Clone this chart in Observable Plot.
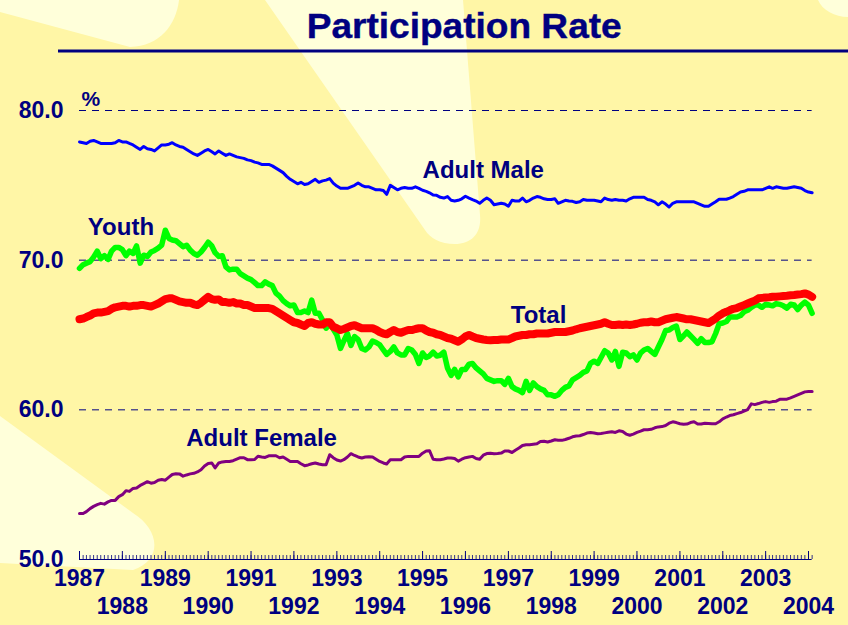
<!DOCTYPE html>
<html>
<head>
<meta charset="utf-8">
<script src="https://cdn.jsdelivr.net/npm/d3@7"></script>
<script src="https://cdn.jsdelivr.net/npm/@observablehq/plot@0.6"></script>
<style>
  html, body { margin: 0; padding: 0; background: #FFF6A6; }
  #wrap { position: relative; width: 848px; height: 625px; overflow: hidden; background: #FFF6A6; font-family: "Liberation Sans", Arial, sans-serif; }
  #bg { position: absolute; left: 0; top: 0; }
  #chart { position: absolute; left: 0; top: 0; }
</style>
</head>
<body>
<div id="wrap">
  <svg id="bg" width="848" height="625" viewBox="0 0 848 625">
    <path d="M0,0 L179,0 C176,25 160,46 130,47 L0,12 Z" fill="#FFFFDA"/>
    <path d="M265,0 L463,0 L480,215 C482,235 470,244 455,244 C440,244 430,238 425,230 Z" fill="#FFFFDA"/>
    <path d="M0,416 L133,513 C160,530 163,560 133,570 L0,563 Z" fill="#FFFFDA"/>
    <path d="M818,0 C822,10 835,17 848,17 L848,0 Z" fill="#FFFFDA"/>
    <text x="306.7" y="38" font-family="Liberation Sans, Arial, sans-serif" font-weight="bold" font-size="35" fill="#000080" stroke="#000080" stroke-width="0.4" textLength="315" lengthAdjust="spacingAndGlyphs">Participation Rate</text>
    <rect x="58" y="49.5" width="790" height="3" fill="#000080"/>
  </svg>
  <div id="chart"></div>
</div>
<script>
// Monthly participation rates, Jan 1987 – Feb 2004 (%)
const adultMale = [
  77.9, 77.85, 77.8, 77.95, 78.0, 77.9, 77.8, 77.8, 77.8, 77.8, 77.85, 78.0,
  77.9, 77.9, 77.8, 77.7, 77.55, 77.4, 77.6, 77.45, 77.4, 77.3, 77.5, 77.7,
  77.7, 77.75, 77.85, 77.7, 77.6, 77.55, 77.4, 77.25, 77.1, 77.0, 77.15, 77.3,
  77.4, 77.25, 77.1, 77.3, 77.15, 77.0, 77.1, 77.0, 76.9, 76.85, 76.8, 76.7,
  76.65, 76.55, 76.5, 76.4, 76.4, 76.4, 76.3, 76.15, 76.0, 75.85, 75.6, 75.4,
  75.25, 75.1, 75.2, 75.05, 75.1, 75.25, 75.4, 75.2, 75.3, 75.35, 75.45, 75.15,
  74.95, 74.8, 74.8, 74.8, 74.9, 75.0, 75.15, 75.0, 74.9, 74.9, 74.8, 74.7,
  74.7, 74.65, 74.4, 75.0, 74.85, 74.7, 74.8, 74.85, 74.8, 74.8, 74.9, 74.8,
  74.67, 74.6, 74.5, 74.35, 74.33, 74.2, 74.15, 74.25, 74.0, 73.95, 74.0, 74.1,
  74.27, 74.15, 74.05, 73.95, 73.8, 74.0, 74.15, 74.0, 73.7, 73.75, 73.8, 73.75,
  73.6, 74.0, 73.95, 73.95, 74.15, 73.9, 74.0, 74.15, 74.25, 74.2, 74.1, 74.05,
  74.05, 74.1, 73.8, 73.9, 74.0, 73.95, 73.93, 73.85, 73.9, 74.05, 74.0, 74.0,
  74.0, 73.95, 73.9, 74.15, 74.05, 74.0, 74.05, 74.0, 74.0, 73.95, 74.1, 74.2,
  74.2, 74.2, 74.2, 74.05, 74.0, 73.9, 73.7, 73.9, 73.75, 73.55, 73.8, 73.9,
  73.9, 73.9, 73.9, 73.9, 73.9, 73.8, 73.7, 73.6, 73.6, 73.75, 73.9, 74.07,
  74.07, 74.07, 74.15, 74.25, 74.4, 74.55, 74.6, 74.7, 74.7, 74.7, 74.7, 74.7,
  74.8, 74.9, 74.8, 74.9, 74.85, 74.8, 74.8, 74.85, 74.9, 74.85, 74.8, 74.65,
  74.55, 74.5
];
const youth = [
  69.45, 69.7, 69.8, 69.9, 70.2, 70.6, 70.1, 70.3, 70.05, 70.6, 70.85, 70.85,
  70.7, 70.3, 70.6, 70.45, 70.95, 69.8, 70.33, 70.25, 70.55, 70.65, 70.8, 71.0,
  72.0, 71.45, 71.35, 71.3, 71.1, 70.9, 71.0, 70.67, 70.45, 70.33, 70.55, 70.85,
  71.2, 70.95, 70.5, 70.25, 70.3, 69.55, 69.35, 69.4, 69.4, 69.1, 68.95, 68.8,
  68.7, 68.5, 68.3, 68.3, 68.55, 68.4, 68.3, 67.8, 67.6, 67.3, 67.1, 66.95,
  67.0, 66.5, 66.5, 66.6, 66.5, 67.33, 66.45, 66.45, 66.0, 65.45, 65.75, 65.4,
  65.0, 64.1, 64.6, 65.1, 64.3, 64.9, 64.7, 64.1, 64.0, 64.2, 64.6, 64.5,
  64.35, 64.0, 63.7, 63.9, 64.2, 63.8, 63.67, 63.67, 64.1, 64.0, 63.7, 63.1,
  63.8, 63.5, 63.6, 63.85, 63.6, 63.65, 63.85, 62.8, 62.3, 62.7, 62.2, 62.7,
  62.7, 63.05, 63.1, 62.8, 62.6, 62.4, 62.1, 62.0, 61.9, 61.95, 61.95, 61.7,
  62.1, 61.55, 61.4, 61.3, 61.15, 61.9, 61.3, 61.8, 61.55, 61.4, 61.3, 61.0,
  61.0, 60.9, 61.0, 61.3, 61.5, 61.6, 62.0, 62.15, 62.3, 62.5, 62.6, 63.1,
  63.25, 63.1, 63.5, 63.95, 63.8, 63.33, 63.9, 62.9, 63.85, 63.8, 63.55, 63.67,
  63.33, 63.8, 64.0, 64.1, 63.9, 63.7, 64.2, 64.7, 65.3, 65.33, 65.5, 65.6,
  64.7, 64.95, 65.2, 64.95, 64.7, 64.45, 64.75, 64.5, 64.5, 64.55, 65.1, 65.75,
  65.8, 65.9, 66.2, 66.2, 66.2, 66.3, 66.55, 66.65, 66.85, 67.0, 67.0, 66.85,
  67.05, 67.0, 66.95, 67.1, 67.05, 66.95, 66.8, 67.05, 67.0, 66.7, 67.0, 67.2,
  67.0, 66.45
];
const total = [
  66.05, 66.1, 66.2, 66.3, 66.45, 66.5, 66.5, 66.55, 66.6, 66.75, 66.85, 66.9,
  66.95, 66.95, 66.9, 66.95, 66.95, 67.0, 67.0, 66.95, 66.9, 67.0, 67.1, 67.25,
  67.4, 67.45, 67.45, 67.35, 67.25, 67.2, 67.15, 67.15, 67.05, 67.0, 67.15, 67.35,
  67.55, 67.4, 67.35, 67.38, 67.2, 67.2, 67.15, 67.2, 67.1, 67.1, 67.0, 67.0,
  66.9, 66.8, 66.8, 66.8, 66.8, 66.8, 66.75, 66.6, 66.45, 66.3, 66.15, 66.0,
  65.85, 65.8, 65.7, 65.6, 65.8, 65.85, 65.75, 65.7, 65.7, 65.85, 65.85, 65.55,
  65.45, 65.33, 65.4, 65.5, 65.6, 65.65, 65.55, 65.45, 65.45, 65.45, 65.45, 65.35,
  65.2, 65.1, 65.05, 65.2, 65.33, 65.2, 65.15, 65.25, 65.33, 65.33, 65.4, 65.45,
  65.45, 65.3, 65.2, 65.15, 65.05, 65.0, 64.9, 64.8, 64.75, 64.65, 64.55, 64.7,
  64.9, 65.0, 64.9, 64.8, 64.75, 64.7, 64.67, 64.65, 64.67, 64.67, 64.7, 64.7,
  64.7, 64.8, 64.9, 64.95, 65.0, 65.0, 65.05, 65.05, 65.1, 65.1, 65.1, 65.1,
  65.15, 65.2, 65.2, 65.2, 65.2, 65.25, 65.3, 65.38, 65.45, 65.5, 65.55, 65.6,
  65.65, 65.7, 65.75, 65.85, 65.75, 65.67, 65.67, 65.7, 65.67, 65.7, 65.67, 65.7,
  65.75, 65.82, 65.85, 65.85, 65.9, 65.85, 65.85, 65.95, 66.05, 66.1, 66.15, 66.2,
  66.15, 66.1, 66.05, 66.05, 66.0, 65.95, 65.9, 65.85, 65.8, 65.95, 66.1, 66.3,
  66.45, 66.55, 66.65, 66.75, 66.8, 66.9, 67.0, 67.1, 67.2, 67.3, 67.45, 67.48,
  67.5, 67.52, 67.55, 67.55, 67.58, 67.6, 67.62, 67.65, 67.67, 67.7, 67.73, 67.78,
  67.7, 67.55
];
const adultFemale = [
  53.07, 53.07, 53.2, 53.4, 53.55, 53.67, 53.75, 53.7, 53.85, 53.95, 53.95, 54.2,
  54.33, 54.6, 54.55, 54.75, 54.78, 54.95, 55.07, 55.2, 55.1, 55.15, 55.3, 55.35,
  55.3, 55.5, 55.68, 55.73, 55.72, 55.57, 55.65, 55.72, 55.76, 55.85, 56.0, 56.25,
  56.42, 56.45, 56.12, 56.45, 56.52, 56.55, 56.55, 56.6, 56.7, 56.8, 56.8, 56.67,
  56.67, 56.68, 56.9, 56.85, 56.82, 56.93, 56.93, 56.93, 56.8, 56.85, 56.7, 56.55,
  56.55, 56.55, 56.4, 56.27, 56.32, 56.4, 56.45, 56.38, 56.33, 56.33, 57.0, 56.8,
  56.65, 56.58, 56.67, 56.85, 57.07, 56.95, 56.85, 56.78, 56.85, 56.87, 56.85, 56.7,
  56.55, 56.45, 56.38, 56.67, 56.67, 56.67, 56.67, 56.85, 56.89, 56.89, 56.89, 56.89,
  57.1, 57.25, 57.27, 56.7, 56.67, 56.67, 56.72, 56.78, 56.78, 56.75, 56.57, 56.7,
  56.8, 56.85, 56.89, 56.75, 56.7, 56.97, 57.08, 57.1, 57.07, 57.08, 57.11, 57.25,
  57.25, 57.15, 57.3, 57.45, 57.62, 57.67, 57.67, 57.7, 57.73, 57.88, 57.9, 57.85,
  57.92, 58.0, 57.97, 57.96, 58.02, 58.1, 58.2, 58.25, 58.27, 58.35, 58.45, 58.48,
  58.45, 58.4, 58.42, 58.46, 58.5, 58.53, 58.49, 58.6, 58.55, 58.38, 58.3, 58.38,
  58.49, 58.58, 58.67, 58.67, 58.7, 58.8, 58.86, 58.88, 58.95, 59.11, 59.2, 59.15,
  59.07, 59.03, 59.05, 59.15, 59.2, 59.05, 59.05, 59.1, 59.09, 59.07, 59.07, 59.2,
  59.4, 59.52, 59.62, 59.67, 59.75, 59.82, 59.92, 60.02, 60.4, 60.35, 60.42, 60.5,
  60.55, 60.5, 60.55, 60.58, 60.7, 60.7, 60.71, 60.8, 60.9, 61.0, 61.1, 61.2,
  61.22, 61.22
];
const yTicks = [50, 60, 70, 80];
const gridValues = [60, 70, 80];
const seriesNames = ["Adult Male", "Youth", "Total", "Adult Female"];
const seriesLabels = [
  {name: "Adult Male",   date: new Date(Date.UTC(1996, 5, 1)),  value: 76.0},
  {name: "Youth",        date: new Date(Date.UTC(1987, 11, 20)), value: 72.2},
  {name: "Total",        date: new Date(Date.UTC(1997, 8, 15)), value: 66.3},
  {name: "Adult Female", date: new Date(Date.UTC(1991, 3, 1)),  value: 58.1}
];

const start = new Date(Date.UTC(1987, 0, 1));
const months = d3.utcMonth.range(start, new Date(Date.UTC(2004, 2, 1)));
const years = d3.utcYear.range(start, new Date(Date.UTC(2004, 1, 1)));
const toRows = (arr, name) => arr.map((v, i) => ({date: months[i], value: v, series: name}));
const rowsMale = toRows(adultMale, seriesNames[0]);
const rowsYouth = toRows(youth, seriesNames[1]);
const rowsTotal = toRows(total, seriesNames[2]);
const rowsFemale = toRows(adultFemale, seriesNames[3]);
const first = months[0], last = months[months.length - 1];
const navy = "#000080";
const txt = {fontWeight: "bold", fill: navy};

const chart = Plot.plot({
  width: 848,
  height: 625,
  marginLeft: 79,
  marginRight: 40,
  marginTop: 110,
  marginBottom: 66,
  x: {type: "utc", domain: [start, new Date(Date.UTC(2004, 0, 1))], axis: null},
  y: {domain: [50, 80], axis: null},
  style: {background: "transparent", fontFamily: "'Liberation Sans', Arial, sans-serif", color: navy, overflow: "visible"},
  marks: [
    Plot.ruleY(gridValues, {x1: first, x2: last, stroke: navy, strokeWidth: 1, strokeDasharray: "7,6"}),
    Plot.ruleY([50], {x1: first, x2: last, stroke: navy, strokeWidth: 1}),
    Plot.ruleX(months, {x: d => d, insetTop: 445, stroke: navy, strokeWidth: 1, strokeOpacity: 0.8}),
    Plot.ruleX(years, {x: d => d, insetTop: 441, stroke: navy, strokeWidth: 1}),
    Plot.text(yTicks, {y: d => d, text: d => d.toFixed(1), frameAnchor: "left", dx: -16, textAnchor: "end", fontSize: 23, ...txt}),
    Plot.text(years.filter(d => d.getUTCFullYear() % 2 === 1), {x: d => d, text: d => String(d.getUTCFullYear()), frameAnchor: "bottom", dy: 26, fontSize: 23, ...txt}),
    Plot.text(years.filter(d => d.getUTCFullYear() % 2 === 0), {x: d => d, text: d => String(d.getUTCFullYear()), frameAnchor: "bottom", dy: 54, fontSize: 23, ...txt}),
    Plot.text(["%"], {frameAnchor: "top-left", dx: 2, dy: -19, textAnchor: "start", fontSize: 21, ...txt}),
    Plot.lineY(rowsMale, {x: "date", y: "value", stroke: "#0000FF", strokeWidth: 3, strokeLinejoin: "round"}),
    Plot.lineY(rowsFemale, {x: "date", y: "value", stroke: "#800080", strokeWidth: 3, strokeLinejoin: "round"}),
    Plot.lineY(rowsYouth, {x: "date", y: "value", stroke: "#00FF00", strokeWidth: 5.5, strokeLinejoin: "round"}),
    Plot.lineY(rowsTotal, {x: "date", y: "value", stroke: "#FF0000", strokeWidth: 8, strokeLinejoin: "round"}),
    Plot.text(seriesLabels, {x: "date", y: "value", text: "name", fontSize: 24, ...txt})
  ]
});
document.getElementById("chart").appendChild(chart);
</script>
</body>
</html>
